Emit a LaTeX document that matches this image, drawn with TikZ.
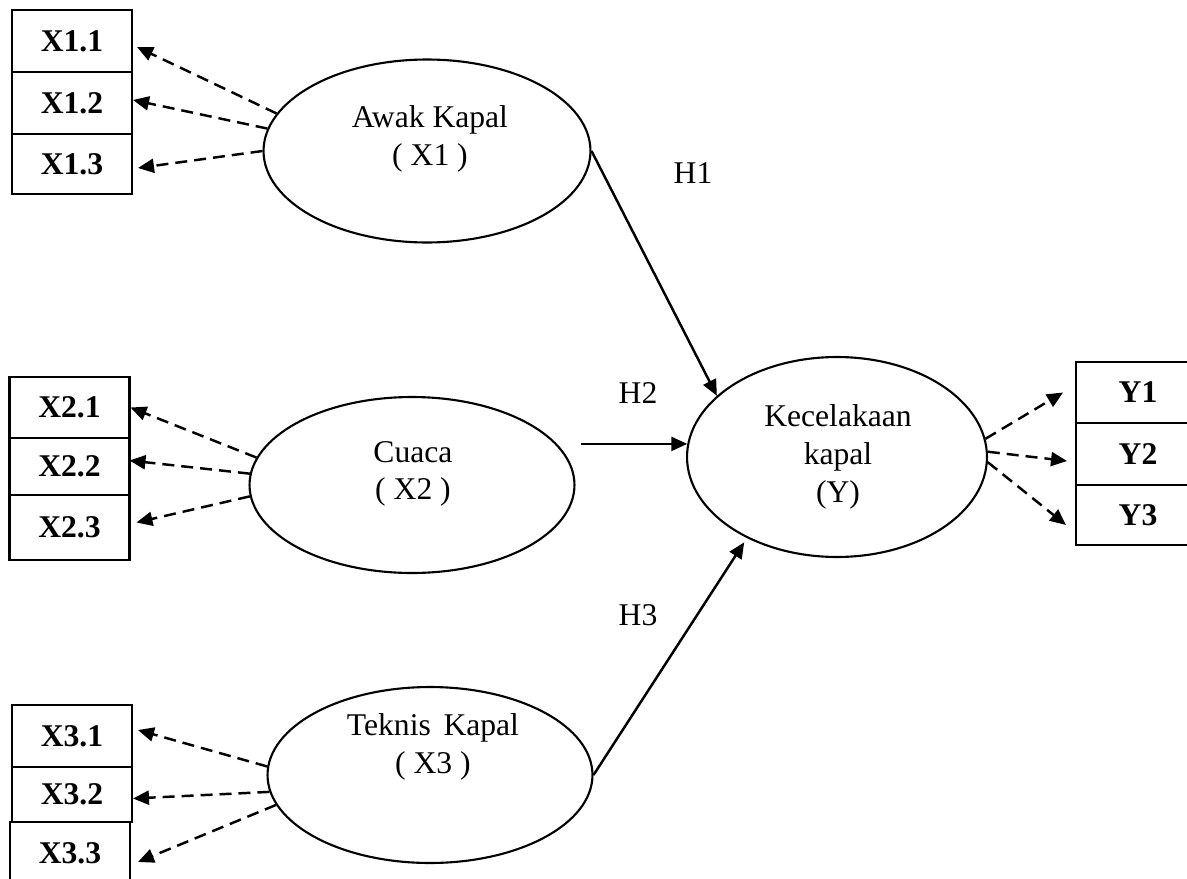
\documentclass[tikz,border=0pt]{standalone}
\usepackage{fontspec}
\setmainfont{Liberation Serif}
\usetikzlibrary{positioning,shapes.geometric,arrows.meta}

\begin{document}
\begin{tikzpicture}[x=0.02cm, y=-0.02cm,
        lv/.style={draw, ellipse, line width=1.2pt, inner sep=0pt},
        ind/.style={draw, rectangle, line width=1.3pt, minimum width=2.4cm,
            minimum height=1.24cm, inner sep=0pt, outer sep=0pt,
            font=\fontsize{18}{21.5}\selectfont\bfseries},
        txt/.style={align=center},
        hyp/.style={-{Triangle[length=3.2mm, width=2.8mm]}, line width=1.4pt},
        load/.style={hyp, dash pattern=on 2.4mm off 1.4mm},
        every node/.style={font=\fontsize{18}{21.5}\selectfont}]
    \clip (0,0) rectangle (1187,879);

    % latent variables
    \node[lv, minimum width=6.54cm, minimum height=3.66cm] (awak) at (427,151) {};
    \node[lv, minimum width=6.5cm, minimum height=3.52cm] (cuaca) at (412,485) {};
    \node[lv, minimum width=6.5cm, minimum height=3.52cm] (teknis) at (430,775) {};
    \node[lv, minimum width=6cm, minimum height=4cm] (kec) at (837,457) {};
    \node[txt] (awaktxt) at (430,139) {Awak Kapal\\( X1 )};
    \node[txt] (cuacatxt) at (413,474) {Cuaca\\( X2 )};
    \node[txt] (teknistxt) at (433,747) {Teknis\hspace{0.4em}Kapal\\( X3 )};
    \node[txt] (kectxt) at (838,457) {Kecelakaan\\kapal\\(Y)};

    % indicators
    \node[ind] (x11) at (72,41) {X1.1};
    \node[ind, below=0pt of x11] (x12) {X1.2};
    \node[ind, below=0pt of x12, minimum height=1.2cm] (x13) {X1.3};
    \node[ind, minimum height=1.22cm] (x21) at (69.5,407.5) {X2.1};
    \node[ind, below=0pt of x21, minimum height=1.14cm] (x22) {X2.2};
    \node[ind, below=0pt of x22, minimum height=1.3cm] (x23) {X2.3};
    \node[ind] (x31) at (72,736) {X3.1};
    \node[ind, below=0pt of x31, minimum height=1.1cm] (x32) {X3.2};
    \node[ind, below=0pt of x32, xshift=-0.04cm] (x33) {X3.3};
    \node[ind, minimum width=2.48cm, minimum height=1.22cm] (y1) at (1138,392.5) {Y1};
    \node[ind, minimum width=2.48cm, below=0pt of y1] (y2) {Y2};
    \node[ind, minimum width=2.48cm, minimum height=1.2cm, below=0pt of y2] (y3) {Y3};

    \draw[load] (awak.166) -- ([shift={(5,6)}]x11.east);
    \draw[load] (awak.172) -- ([shift={(1,-3)}]x12.east);
    \draw[load] (awak.180) -- ([shift={(6,4)}]x13.east);
    \draw[load] (cuaca.170) -- ([shift={(1,0)}]x21.east);
    \draw[load] (cuaca.176) -- ([shift={(0,-6)}]x22.east);
    \draw[load] (cuaca.184) -- ([shift={(7,-5)}]x23.east);
    \draw[load] (teknis.177) -- ([shift={(6,-6)}]x31.east);
    \draw[load] (teknis.186) -- ([shift={(1,4)}]x32.east);
    \draw[load] (teknis.191) -- ([shift={(8,9)}]x33.east);
    \draw[load] (kec.7) -- ([shift={(-13,0)}]y1.west);
    \draw[load] (kec.2) -- ([shift={(-9,7)}]y2.west);
    \draw[load] (kec.358) -- ([shift={(-10,10)}]y3.west);

    % hypotheses
    \draw[hyp] (awak.east) -- (kec.153);
    \draw[hyp, shorten <=1mm] (cuaca.east |- kec.175) -- (kec.175);
    \draw[hyp, shorten >=1mm] (teknis.east) -- (kec.222);
    \node[anchor=base] (h1) at (693,183) {H1};
    \node[anchor=base] (h2) at (638,403) {H2};
    \node[anchor=base] (h3) at (638,625) {H3};
\end{tikzpicture}
\end{document}
